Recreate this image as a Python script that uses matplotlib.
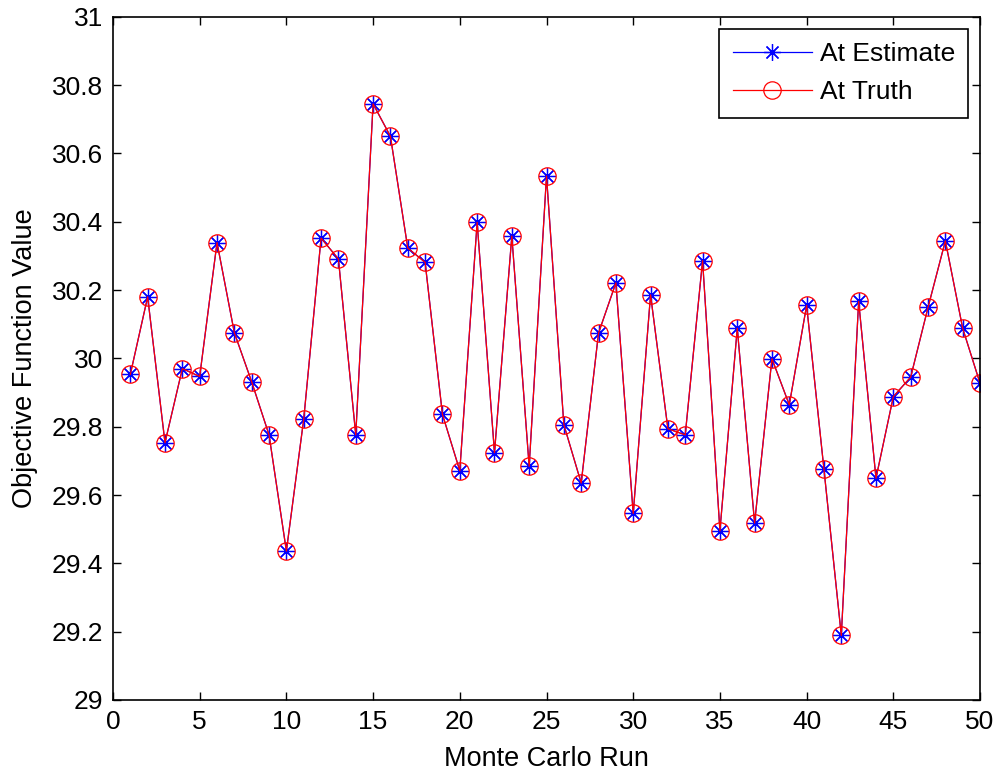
import matplotlib.pyplot as plt
import numpy as np
from matplotlib.ticker import FuncFormatter

plt.rcParams['font.family'] = ['Liberation Sans', 'DejaVu Sans']

# Monte Carlo run index
run = list(range(1, 51))

# objective function value at the estimate / at the truth
at_estimate = [29.953, 30.180, 29.753, 29.970, 29.947, 30.339, 30.075, 29.931, 29.776, 29.436,
               29.822, 30.352, 30.291, 29.776, 30.745, 30.650, 30.323, 30.281, 29.836, 29.671,
               30.398, 29.724, 30.358, 29.684, 30.534, 29.806, 29.635, 30.074, 30.221, 29.546,
               30.186, 29.794, 29.776, 30.286, 29.495, 30.088, 29.518, 29.999, 29.864, 30.155,
               29.675, 29.189, 30.167, 29.649, 29.888, 29.945, 30.149, 30.344, 30.088, 29.927]
at_truth = list(at_estimate)

fig = plt.figure(figsize=(9.98, 7.72), dpi=100)
ax = fig.add_axes([0.1132, 0.0933, 0.8688, 0.885])

ax.plot(run, at_estimate, color='blue', lw=0.9, marker=(8, 2, 0), ms=12,
        mew=0.9, label='At Estimate')
ax.plot(run, at_truth, color='red', lw=0.9, marker='o', ms=12.5, mfc='none',
        mec='red', mew=0.9, label='At Truth')

ax.set_xlim(0, 50)
ax.set_ylim(29, 31)
ax.set_xticks(np.arange(0, 51, 5))
ax.set_yticks(np.arange(29, 31.01, 0.2))
ax.yaxis.set_major_formatter(FuncFormatter(lambda v, p: '%g' % round(v, 1)))
ax.tick_params(direction='in', length=6, width=1, top=True, right=True,
               labelsize=19, pad=7)
for s in ax.spines.values():
    s.set_linewidth(1.2)

ax.set_xlabel('Monte Carlo Run', fontsize=19.5, labelpad=9)
ax.set_ylabel('Objective Function Value', fontsize=19.5, labelpad=10)

leg = ax.legend(loc='upper right', fontsize=19, fancybox=False, framealpha=1,
                edgecolor='black', handlelength=3.0, handletextpad=0.3,
                borderaxespad=0.45, borderpad=0.5, labelspacing=0.55)
leg.get_frame().set_linewidth(1.2)

plt.savefig('out.png', dpi=100)
